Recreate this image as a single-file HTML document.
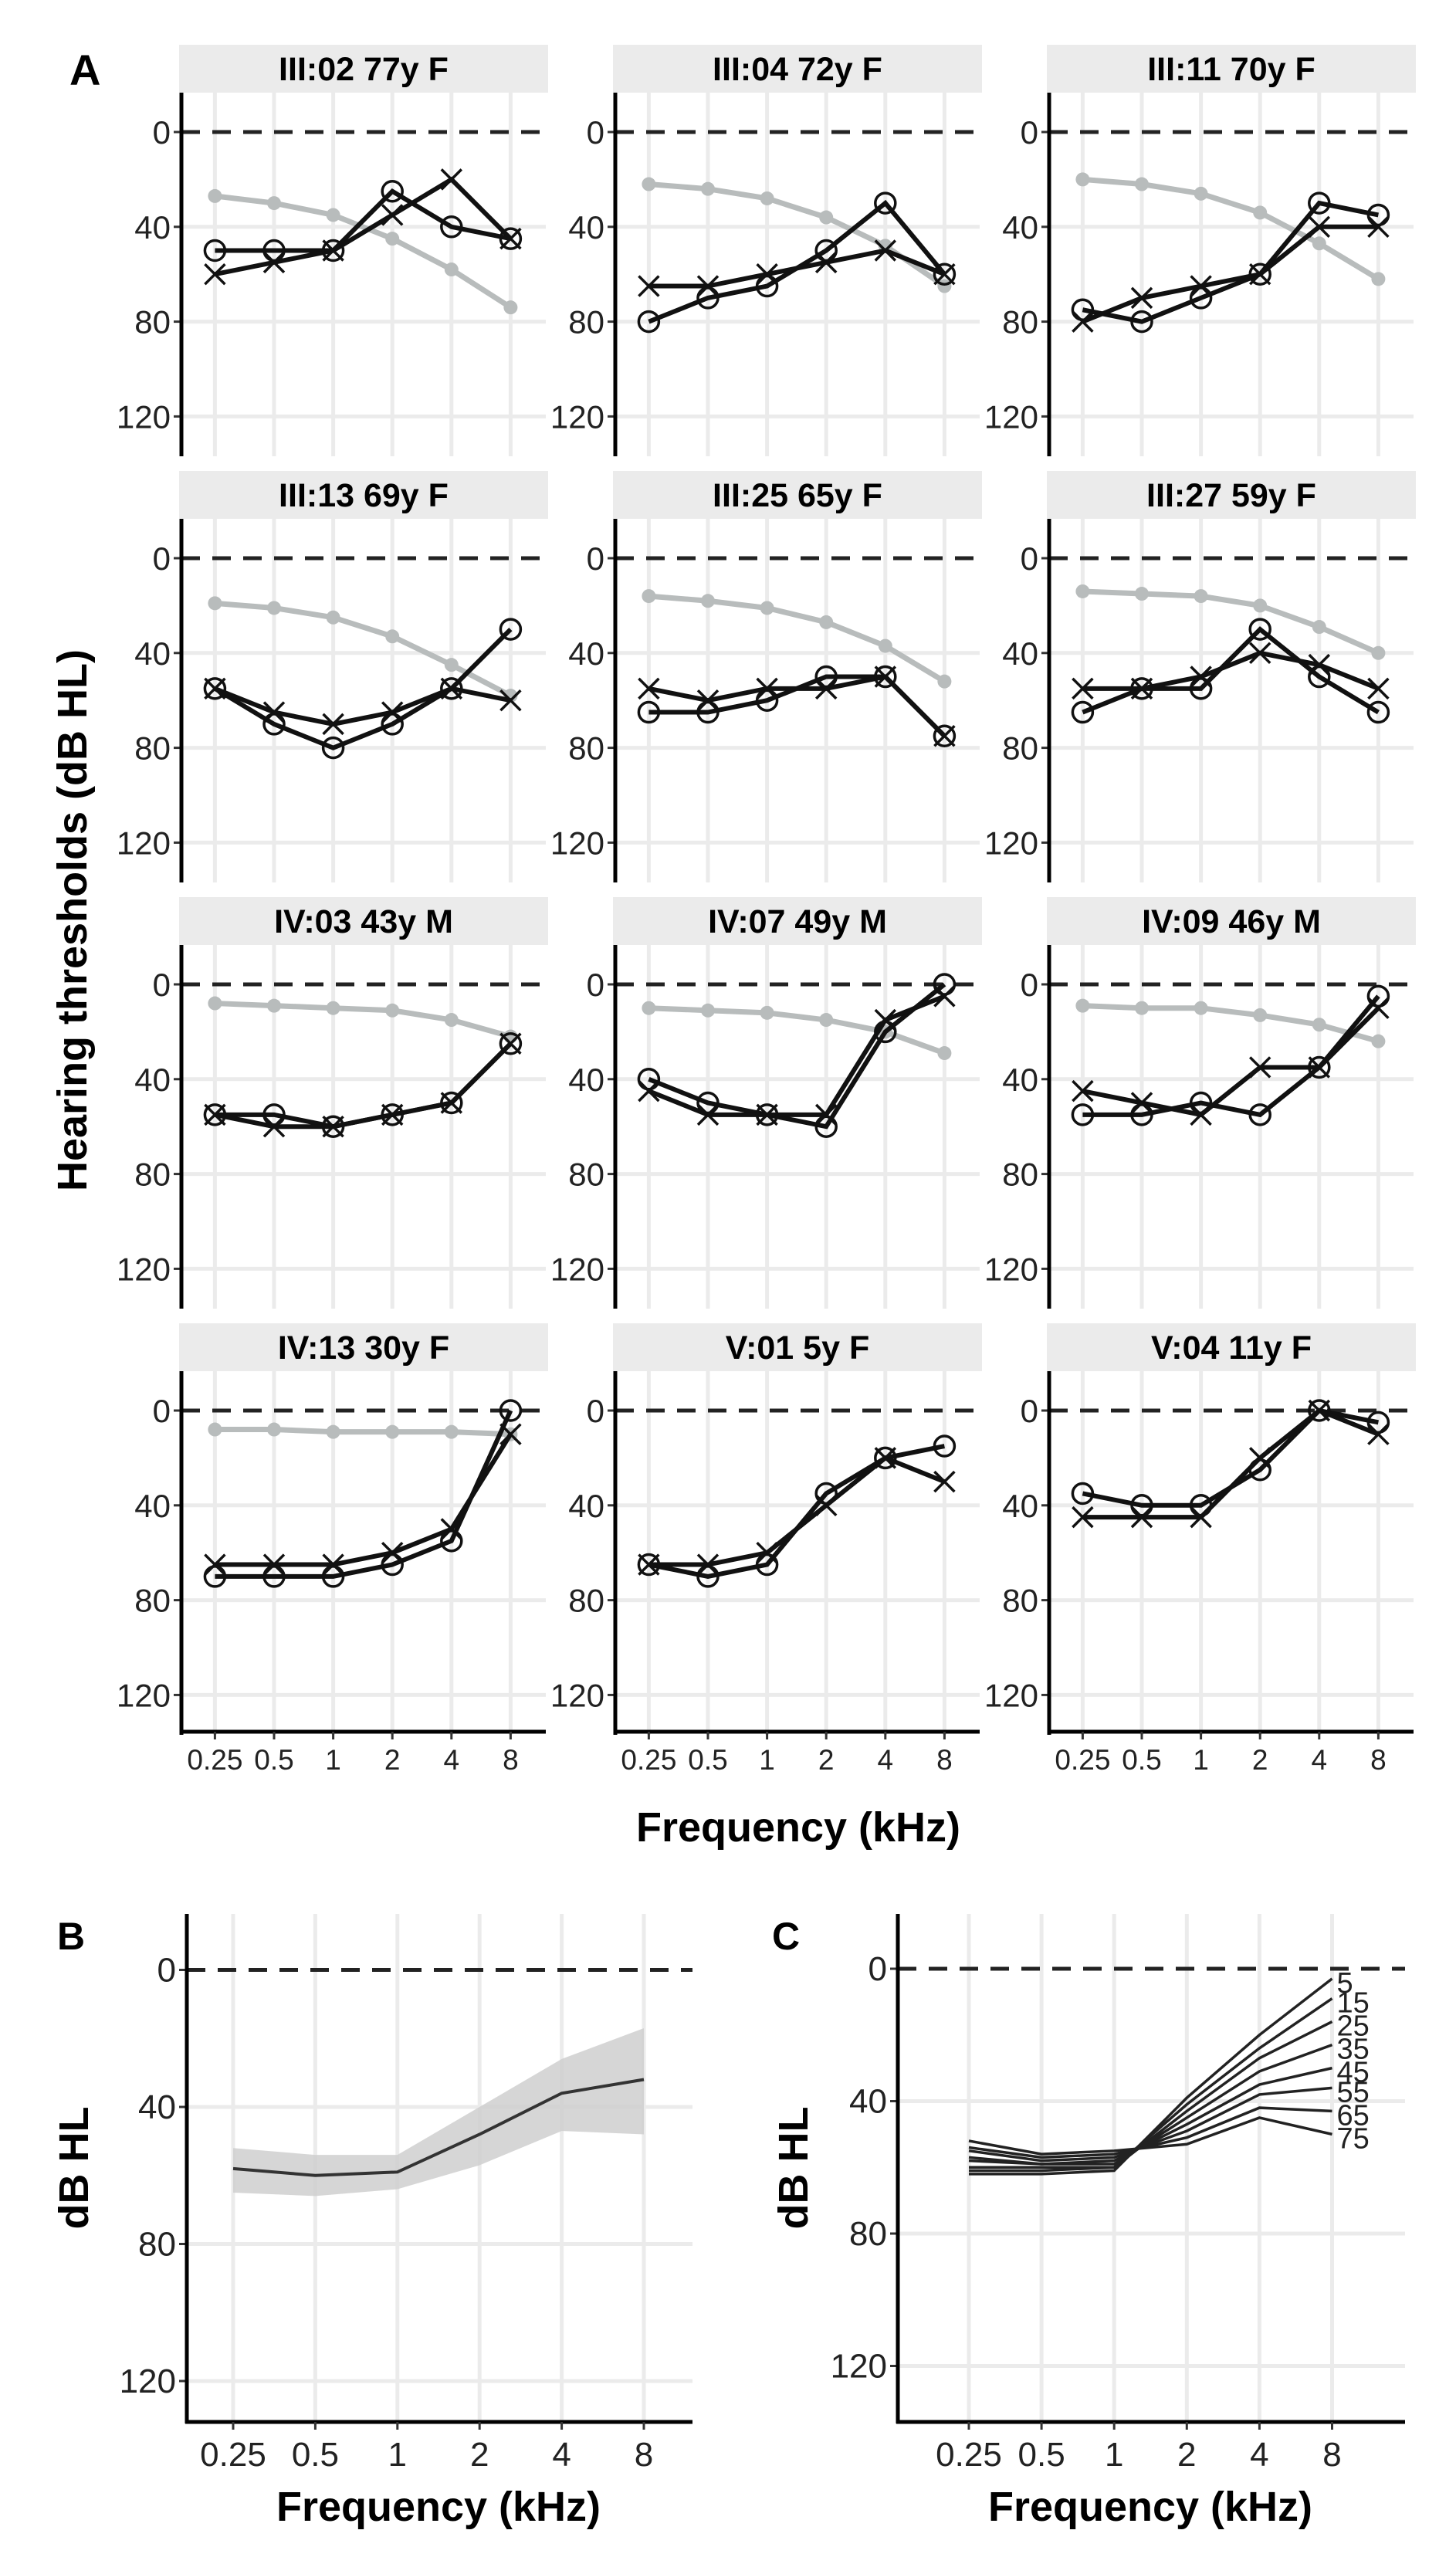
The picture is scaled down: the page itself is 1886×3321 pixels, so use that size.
<!DOCTYPE html>
<html><head><meta charset="utf-8"><style>
html,body{margin:0;padding:0;background:#fff}
svg{display:block}
text{font-family:"Liberation Sans",sans-serif}
</style></head><body>
<svg id="fig" width="1886" height="3321" viewBox="0 0 1886 3321" xmlns="http://www.w3.org/2000/svg"></svg>
<script>
// ---- data ----
const freqLabels = ["0.25","0.5","1","2","4","8"];
const yTicks = [0,40,80,120];
const panelTitles = ["III:02 77y F","III:04 72y F","III:11 70y F","III:13 69y F","III:25 65y F","III:27 59y F","IV:03 43y M","IV:07 49y M","IV:09 46y M","IV:13 30y F","V:01 5y F","V:04 11y F"];
const grayRef = [
 [27,30,35,45,58,74],[22,24,28,36,48,65],[20,22,26,34,47,62],
 [19,21,25,33,45,58],[16,18,21,27,37,52],[14,15,16,20,29,40],
 [8,9,10,11,15,22],[10,11,12,15,20,29],[9,10,10,13,17,24],
 [8,8,9,9,9,10],null,null];
const rightEar = [
 [50,50,50,25,40,45],[80,70,65,50,30,60],[75,80,70,60,30,35],
 [55,70,80,70,55,30],[65,65,60,50,50,75],[65,55,55,30,50,65],
 [55,55,60,55,50,25],[40,50,55,60,20,0],[55,55,50,55,35,5],
 [70,70,70,65,55,0],[65,70,65,35,20,15],[35,40,40,25,0,5]];
const leftEar = [
 [60,55,50,35,20,45],[65,65,60,55,50,60],[80,70,65,60,40,40],
 [55,65,70,65,55,60],[55,60,55,55,50,75],[55,55,50,40,45,55],
 [55,60,60,55,50,25],[45,55,55,55,15,5],[45,50,55,35,35,10],
 [65,65,65,60,50,10],[65,65,60,40,20,30],[45,45,45,20,0,10]];
const meanB = [58,60,59,48,36,32];
const bandLowB = [52,54,54,40,26,17];
const bandHighB = [65,66,64,57,47,48];
const ages = ["5","15","25","35","45","55","65","75"];
const ageCurves = [
 [62,62,61,39,20,3],
 [61,61,60,41,24,9],
 [60,60,60,43,27,16],
 [58,59,59,45,31,23],
 [57,59,58,47,35,30],
 [55,58,57,49,38,36],
 [54,57,56,51,42,43],
 [52,56,55,53,45,50]];

// ---- helpers ----
const NS="http://www.w3.org/2000/svg";
const svg=document.getElementById('fig');
function mk(tag,attrs,parent){const e=document.createElementNS(NS,tag);for(const k in attrs)e.setAttribute(k,attrs[k]);(parent||svg).appendChild(e);return e;}
function txt(s,attrs,parent){const e=mk('text',attrs,parent);e.textContent=s;return e;}

// ---- Panel A ----
const lbA=txt("A",{x:90,y:110,"font-size":56,"font-weight":"bold"});


const yt=txt("Hearing thresholds (dB HL)",{x:0,y:0,"font-size":54,"font-weight":"bold","text-anchor":"middle",transform:"translate(112,1192) rotate(-90)"});



for(let p=0;p<12;p++){
  const r=Math.floor(p/3), c=p%3;
  const ax=235+c*562, stripTop=58+r*552, plotTop=120+r*552, y0=171+r*552, bottom=591+r*552;
  const sx=i=>ax+43.4+i*76.6;
  const sy=v=>y0+v*3.07;
  const g=mk('g',{});
  
  
  const st=mk('rect',{x:ax-3,y:stripTop,width:478,height:62,fill:"#ebebeb"},g);
  
  
  const tt=txt(panelTitles[p],{x:ax+236,y:stripTop+46,"font-size":43,"font-weight":"bold","text-anchor":"middle"},g);
  
  
  for(let i=0;i<6;i++){const l=mk('line',{x1:sx(i),x2:sx(i),y1:plotTop,y2:bottom,stroke:"#ebebeb","stroke-width":5},g);
    }
  yTicks.forEach(v=>{
    if(v>0){const l=mk('line',{x1:ax,x2:ax+472,y1:sy(v),y2:sy(v),stroke:"#ebebeb","stroke-width":5},g);
      }
    const tk=mk('line',{x1:ax-10,x2:ax,y1:sy(v),y2:sy(v),stroke:"#333","stroke-width":3},g);
    
    const tl=txt(String(v),{x:ax-14,y:sy(v)+15,"font-size":42,"text-anchor":"end",fill:"#222"},g);
    
  });
  const dl=mk('line',{x1:ax,x2:ax+472,y1:sy(0),y2:sy(0),stroke:"#222","stroke-width":5,"stroke-dasharray":"24 16"},g);
  
  const yl=mk('line',{x1:ax,x2:ax,y1:plotTop,y2:bottom,stroke:"#000","stroke-width":5},g);
  
  if(r===3){
    const xl=mk('line',{x1:ax-2,x2:ax+472,y1:bottom-4,y2:bottom-4,stroke:"#000","stroke-width":5},g);
    
    freqLabels.forEach((f,i)=>{
      const tk=mk('line',{x1:sx(i),x2:sx(i),y1:bottom-4,y2:bottom+6,stroke:"#333","stroke-width":3},g);
      
      const tl=txt(f,{x:sx(i),y:bottom+45,"font-size":37,"text-anchor":"middle",fill:"#222"},g);
      
    });
  }
  if(grayRef[p]){
    const pts=grayRef[p].map((v,i)=>sx(i)+","+sy(v)).join(" ");
    const pl=mk('polyline',{points:pts,fill:"none",stroke:"#b8bcbc","stroke-width":7},g);
    
    grayRef[p].forEach((v,i)=>{const d=mk('circle',{cx:sx(i),cy:sy(v),r:9,fill:"#b8bcbc"},g);
      });
  }
  const pr=mk('polyline',{points:rightEar[p].map((v,i)=>sx(i)+","+sy(v)).join(" "),fill:"none",stroke:"#111","stroke-width":6},g);
  
  const plx=mk('polyline',{points:leftEar[p].map((v,i)=>sx(i)+","+sy(v)).join(" "),fill:"none",stroke:"#111","stroke-width":6},g);
  
  rightEar[p].forEach((v,i)=>{const m=mk('circle',{cx:sx(i),cy:sy(v),r:13,fill:"none",stroke:"#111","stroke-width":3.5},g);
    });
  leftEar[p].forEach((v,i)=>{const x=sx(i),y=sy(v),s=13;
    const m=mk('path',{d:`M${x-s},${y-s}L${x+s},${y+s}M${x-s},${y+s}L${x+s},${y-s}`,stroke:"#111","stroke-width":3.5,fill:"none"},g);
    });
}
const fa=txt("Frequency (kHz)",{x:1034,y:2385,"font-size":54,"font-weight":"bold","text-anchor":"middle"});


// ---- Panels B & C ----
function panel(cfg){
  const g=mk('g',{});
  
  
  const sx=i=>cfg.x0+i*cfg.dx, sy=v=>cfg.y0+v*cfg.k;
  for(let i=0;i<6;i++){const l=mk('line',{x1:sx(i),x2:sx(i),y1:2479,y2:3137,stroke:"#ebebeb","stroke-width":5},g);
    }
  yTicks.forEach(v=>{
    if(v>0){const l=mk('line',{x1:cfg.ax,x2:cfg.right,y1:sy(v),y2:sy(v),stroke:"#ebebeb","stroke-width":5},g);
      }
    const tk=mk('line',{x1:cfg.ax-10,x2:cfg.ax,y1:sy(v),y2:sy(v),stroke:"#333","stroke-width":3},g);
    
    const tl=txt(String(v),{x:cfg.ax-14,y:sy(v)+15,"font-size":44,"text-anchor":"end",fill:"#222"},g);
    
  });
  const dl=mk('line',{x1:cfg.ax,x2:cfg.right,y1:sy(0),y2:sy(0),stroke:"#222","stroke-width":5,"stroke-dasharray":"24 16"},g);
  
  cfg.draw(g,sx,sy);
  const yl=mk('line',{x1:cfg.ax,x2:cfg.ax,y1:2479,y2:3139,stroke:"#000","stroke-width":5},g);
  
  const xl=mk('line',{x1:cfg.ax-2,x2:cfg.right,y1:3137,y2:3137,stroke:"#000","stroke-width":5},g);
  
  freqLabels.forEach((f,i)=>{
    const tk=mk('line',{x1:sx(i),x2:sx(i),y1:3137,y2:3147,stroke:"#333","stroke-width":3},g);
    
    const tl=txt(f,{x:sx(i),y:3194,"font-size":44,"text-anchor":"middle",fill:"#222"},g);
    
  });
  const xt=txt("Frequency (kHz)",{x:cfg.xtx,y:3265,"font-size":54,"font-weight":"bold","text-anchor":"middle"},g);
  
  const ytl=txt("dB HL",{x:0,y:0,"font-size":54,"font-weight":"bold","text-anchor":"middle",transform:`translate(${cfg.ytx},2808) rotate(-90)`},g);
  
  const lb=txt(cfg.label,{x:cfg.lx,y:2525,"font-size":50,"font-weight":"bold"},g);
  
}
panel({name:"panel-b-mean-audiogram",ax:242,right:897,x0:302,dx:106.4,y0:2551.5,k:4.4375,xtx:568,ytx:114,lx:74,label:"B",
  draw:(g,sx,sy)=>{
    const up=bandLowB.map((v,i)=>sx(i)+","+sy(v));
    const dn=bandHighB.map((v,i)=>sx(i)+","+sy(v)).reverse();
    const band=mk('polygon',{points:up.concat(dn).join(" "),fill:"#cfcfcf","fill-opacity":0.85},g);
    
    const ml=mk('polyline',{points:meanB.map((v,i)=>sx(i)+","+sy(v)).join(" "),fill:"none",stroke:"#333","stroke-width":4},g);
    
  }});
panel({name:"panel-c-age-curves",ax:1163,right:1820,x0:1255,dx:94.1,y0:2550,k:4.2875,xtx:1490,ytx:1046,lx:1000,label:"C",
  draw:(g,sx,sy)=>{
    ageCurves.forEach((arr,j)=>{
      const l=mk('polyline',{points:arr.map((v,i)=>sx(i)+","+sy(v)).join(" "),fill:"none",stroke:"#222","stroke-width":3.5},g);
      
      const t=txt(ages[j],{x:sx(5)+6,y:sy(arr[5])+18,"font-size":38,fill:"#222"},g);
      
    });
  }});
</script>
</body></html>
